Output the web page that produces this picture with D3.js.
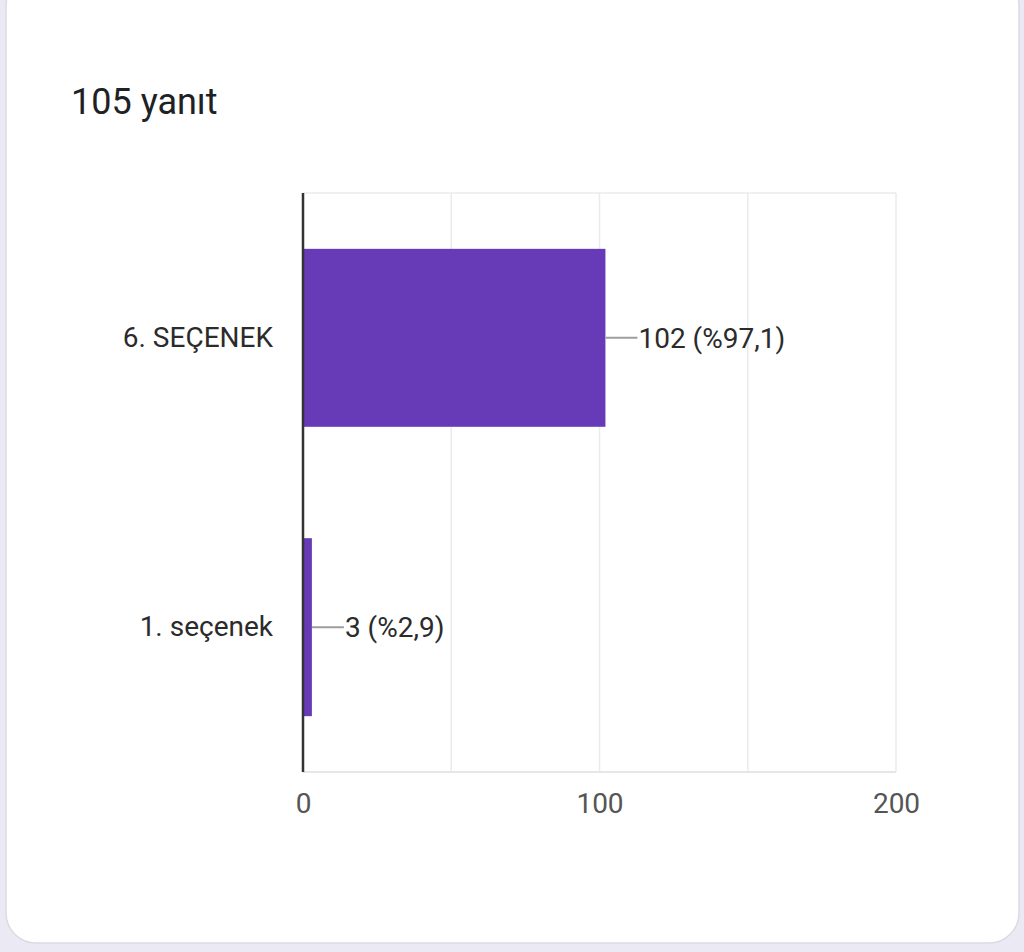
<!DOCTYPE html>
<html lang="tr">
<head>
<meta charset="UTF-8">
<title>105 yanıt</title>
<style>
  html, body { margin: 0; padding: 0; background: #ebe9f3; }
  svg { display: block; font-family: Roboto, "Noto Sans", sans-serif; }
</style>
</head>
<body>
<script src="https://cdn.jsdelivr.net/npm/d3@7/dist/d3.min.js"></script>
<script>
const width = 1024;
const height = 952;

const title = "105 yanıt";
const categories = ["6. SEÇENEK", "1. seçenek"];
const counts = [102, 3];
const percentLabels = ["%97,1", "%2,9"];
const xTicks = [0, 100, 200];
const gridTicks = [0, 50, 100, 150, 200];

const margin = {top: 193, right: 128, bottom: 180, left: 303};

const svg = d3.select("body")
  .append("svg")
  .attr("width", width)
  .attr("height", height);

// card
svg.append("rect")
  .attr("x", 6).attr("y", -24)
  .attr("width", 1013).attr("height", 967)
  .attr("rx", 30)
  .attr("fill", "#fff")
  .attr("stroke", "#dcdae3")
  .attr("stroke-width", 1.5);

svg.append("text")
  .attr("x", 71).attr("y", 114)
  .attr("font-size", 36)
  .attr("fill", "#202124")
  .text(title);

const x = d3.scaleLinear()
  .domain([0, 200])
  .range([margin.left, width - margin.right]);

const y = d3.scaleBand()
  .domain(categories)
  .range([margin.top, height - margin.bottom])
  .paddingInner(0.385)
  .paddingOuter(0.193);

// grid
svg.append("g")
  .selectAll("line")
  .data(gridTicks)
  .join("line")
  .attr("x1", d => x(d)).attr("x2", d => x(d))
  .attr("y1", margin.top).attr("y2", height - margin.bottom)
  .attr("stroke", "#ebebeb")
  .attr("stroke-width", 1.5);

svg.append("line")
  .attr("x1", margin.left).attr("x2", x(200))
  .attr("y1", margin.top).attr("y2", margin.top)
  .attr("stroke", "#ebebeb").attr("stroke-width", 1.5);
svg.append("line")
  .attr("x1", margin.left).attr("x2", x(200))
  .attr("y1", height - margin.bottom).attr("y2", height - margin.bottom)
  .attr("stroke", "#e6e6e6").attr("stroke-width", 2);

// bars
svg.append("g")
  .selectAll("rect")
  .data(counts)
  .join("rect")
  .attr("x", x(0))
  .attr("y", (d, i) => y(categories[i]))
  .attr("width", d => x(d) - x(0))
  .attr("height", y.bandwidth())
  .attr("fill", "#673ab7");

// leader lines + value labels
const ann = svg.append("g")
  .selectAll("g")
  .data(counts)
  .join("g")
  .attr("transform", (d, i) => `translate(${x(d)},${y(categories[i]) + y.bandwidth() / 2})`);

ann.append("line")
  .attr("x1", 0).attr("x2", 32)
  .attr("stroke", "#9e9e9e")
  .attr("stroke-width", 2);

ann.append("text")
  .attr("x", 33)
  .attr("dy", "0.36em")
  .attr("font-size", 28)
  .attr("fill", "#2b2b2b")
  .text((d, i) => `${d} (${percentLabels[i]})`);

// category axis
const yAxis = svg.append("g")
  .attr("transform", `translate(${margin.left},0)`)
  .call(d3.axisLeft(y).tickSize(0).tickPadding(30));
yAxis.select(".domain")
  .attr("stroke", "#333")
  .attr("stroke-width", 2.5)
  .attr("d", `M0,${margin.top}V${height - margin.bottom}`);
yAxis.selectAll("text")
  .attr("font-size", 28)
  .attr("font-family", "Roboto, sans-serif")
  .attr("fill", "#2b2b2b");

// value axis
const xAxis = svg.append("g")
  .attr("transform", `translate(0,${height - margin.bottom})`)
  .call(d3.axisBottom(x).tickValues(xTicks).tickSize(0).tickPadding(21));
xAxis.select(".domain").remove();
xAxis.selectAll("text")
  .attr("font-size", 28)
  .attr("font-family", "Roboto, sans-serif")
  .attr("fill", "#555");
</script>
</body>
</html>
